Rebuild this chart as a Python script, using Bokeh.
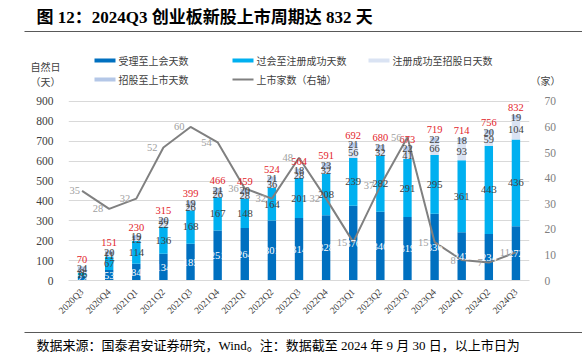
import math
import numpy as np
from bokeh.plotting import figure
from bokeh.models import (ColumnDataSource, FactorRange, Range1d, LinearAxis, FixedTicker, LabelSet)
from bokeh.layouts import column
from bokeh.embed import file_html
from bokeh.resources import INLINE
from bokeh.core.properties import value

# ---------------- data ----------------
quarters = ["2020Q3", "2020Q4", "2021Q1", "2021Q2", "2021Q3", "2021Q4", "2022Q1", "2022Q2",
            "2022Q3", "2022Q4", "2023Q1", "2023Q2", "2023Q3", "2023Q4", "2024Q1", "2024Q2", "2024Q3"]
accept_to_meeting = [22, 53, 84, 134, 185, 251, 264, 301, 314, 328, 376, 346, 319, 336, 243, 234, 272]
meeting_to_reg = [16, 67, 114, 136, 168, 167, 148, 164, 201, 208, 239, 282, 291, 295, 361, 443, 436]
reg_to_prospectus = [8, 11, 12, 22, 26, 26, 28, 36, 28, 32, 56, 32, 41, 66, 93, 59, 104]
prospectus_to_listing = [24, 20, 19, 20, 19, 21, 20, 21, 18, 23, 21, 21, 22, 22, 18, 20, 19]
total_days = [70, 151, 230, 315, 399, 466, 459, 524, 564, 591, 692, 680, 673, 719, 714, 756, 832]
listed_count = [35, 28, 32, 52, 60, 54, 36, 32, 48, 32, 15, 37, 56, 15, 8, 7, 11]
left_ticks = [0, 100, 200, 300, 400, 500, 600, 700, 800, 900]
right_ticks = [0, 10, 20, 30, 40, 50, 60, 70]

series_names = ["受理至上会天数", "过会至注册成功天数", "注册成功至招股日天数", "招股至上市天数"]
line_name = "上市家数（右轴）"
title_text = "图 12：2024Q3 创业板新股上市周期达 832 天"
footer_text = "数据来源：国泰君安证券研究，Wind。注：数据截至 2024 年 9 月 30 日，以上市日为"

# ---------------- style ----------------
colors = ["#0070C0", "#00B0F0", "#DAE3F3", "#B4C7E7"]
label_colors = ["#FFFFFF", "#404040", "#404040", "#404040"]
line_color = "#808080"
red = "#E3242B"
SERIF = "Liberation Serif"
CJK = "Noto Sans CJK SC"
MIX = "'Liberation Serif', 'Noto Sans CJK SC'"

W = 582
TOP_H, MAIN_H, FOOT_H = 92, 230, 38
FL, FR = 68, 529
FRAME_H = 190
LEFT_MAX, RIGHT_MAX = 900, 70
y_end = FRAME_H * LEFT_MAX / 181.0
r_end = y_end * RIGHT_MAX / LEFT_MAX


def panel(h):
    f = figure(width=W, height=h, x_range=Range1d(0, W), y_range=Range1d(h, 0),
               x_axis_type=None, y_axis_type=None, toolbar_location=None,
               output_backend="svg", min_border=0, outline_line_color=None)
    f.grid.visible = False
    f.frame_align = False
    return f


# ---------------- header (title + legend) ----------------
t = panel(TOP_H)
t.text(x=[36], y=[17], text=[title_text], text_font=value(MIX), text_font_size="17px",
       text_font_style="bold", text_baseline="middle", text_color="#000000")
t.segment(x0=[24], y0=[31], x1=[W], y1=[31], line_color="#595959", line_width=1.2)

sw_x = [94, 232, 368, 94]
sw_y = [60, 60, 60, 79]
for i in range(4):
    t.quad(left=[sw_x[i]], right=[sw_x[i] + 21], top=[sw_y[i] - 2], bottom=[sw_y[i] + 2],
           fill_color=colors[i], line_color=None)
    t.text(x=[sw_x[i] + 24], y=[sw_y[i]], text=[series_names[i]], text_font=value(CJK),
           text_font_size="10px", text_baseline="middle", text_color="#404040")
t.segment(x0=[232], y0=[79], x1=[253], y1=[79], line_color=line_color, line_width=2)
t.text(x=[256], y=[79], text=[line_name], text_font=value(CJK), text_font_size="10px",
       text_baseline="middle", text_color="#404040")
t.text(x=[30, 30], y=[66, 81], text=["自然日", "（天）"], text_font=value(CJK),
       text_font_size="10px", text_baseline="middle", text_color="#404040")
t.text(x=[530], y=[80], text=["（家）"], text_font=value(CJK), text_font_size="10px",
       text_baseline="middle", text_color="#404040")

# ---------------- main chart ----------------
p = figure(width=W, height=MAIN_H, x_range=FactorRange(*quarters, range_padding=0),
           y_range=Range1d(0, y_end), toolbar_location=None, output_backend="svg",
           min_border_left=FL, min_border_right=W - FR, min_border_top=0,
           min_border_bottom=MAIN_H - FRAME_H, outline_line_color=None)
p.frame_align = False
p.extra_y_ranges = {"right": Range1d(0, r_end)}

src = ColumnDataSource(dict(q=quarters, s1=accept_to_meeting, s2=meeting_to_reg,
                            s3=reg_to_prospectus, s4=prospectus_to_listing))
p.vbar_stack(["s1", "s2", "s3", "s4"], x="q", width=0.31, fill_color=colors,
             line_color=None, source=src)

arr = np.array([accept_to_meeting, meeting_to_reg, reg_to_prospectus, prospectus_to_listing], dtype=float)
cum = arr.cumsum(axis=0)
mids = cum - arr / 2.0
for i in range(4):
    s = ColumnDataSource(dict(x=quarters, y=list(mids[i]), t=[str(v) for v in arr[i].astype(int)]))
    p.add_layout(LabelSet(x="x", y="y", text="t", source=s, text_align="center",
                          text_baseline="middle", text_font=value(SERIF),
                          text_font_size=value("10.5px"), text_color=value(label_colors[i])))

tot = ColumnDataSource(dict(x=quarters, y=list(cum[-1]), t=[str(v) for v in total_days]))
p.add_layout(LabelSet(x="x", y="y", text="t", source=tot, text_align="center",
                      text_baseline="bottom", y_offset=4, text_font=value(SERIF),
                      text_font_size=value("10.5px"), text_color=value(red)))

p.line(x=quarters, y=listed_count, y_range_name="right", line_color=line_color, line_width=2)
line_offsets = [-2] + [-6] * (len(quarters) - 1)
ls = ColumnDataSource(dict(x=quarters, y=listed_count, t=[str(v) for v in listed_count],
                           dx=line_offsets))
p.add_layout(LabelSet(x="x", y="y", text="t", source=ls, y_range_name="right",
                      text_align="right", text_baseline="middle", x_offset="dx",
                      text_font=value(SERIF), text_font_size=value("10.5px"),
                      text_color=value("#A0A0A0")))

p.xgrid.visible = False
p.ygrid.ticker = FixedTicker(ticks=left_ticks)
p.ygrid.grid_line_color = "#D9D9D9"

p.yaxis.ticker = FixedTicker(ticks=left_ticks)
p.yaxis.axis_line_color = None
p.yaxis.major_tick_line_color = None
p.yaxis.minor_tick_line_color = None
p.yaxis.major_label_text_font = SERIF
p.yaxis.major_label_text_font_size = "11.5px"
p.yaxis.major_label_text_color = "#404040"
p.yaxis.major_label_standoff = 9

ax_r = LinearAxis(y_range_name="right", ticker=FixedTicker(ticks=right_ticks))
ax_r.axis_line_color = None
ax_r.major_tick_line_color = None
ax_r.minor_tick_line_color = None
ax_r.major_label_text_font = SERIF
ax_r.major_label_text_font_size = "11.5px"
ax_r.major_label_text_color = "#808080"
ax_r.major_label_standoff = 9
p.add_layout(ax_r, "right")

p.xaxis.axis_line_color = "#D9D9D9"
p.xaxis.major_tick_line_color = None
p.xaxis.minor_tick_line_color = None
p.xaxis.major_label_orientation = math.pi / 4
p.xaxis.major_label_text_font = SERIF
p.xaxis.major_label_text_font_size = "9.5px"
p.xaxis.major_label_text_color = "#404040"
p.xaxis.major_label_standoff = 4

# ---------------- footer ----------------
f = panel(FOOT_H)
f.segment(x0=[24], y0=[10], x1=[W], y1=[10], line_color="#595959", line_width=1.2)
f.text(x=[36], y=[23], text=[footer_text], text_font=value(MIX), text_font_size="13px",
       text_baseline="middle", text_color="#000000")

layout = column(t, p, f, spacing=0)
open("out.html", "w").write(file_html(layout, INLINE))
